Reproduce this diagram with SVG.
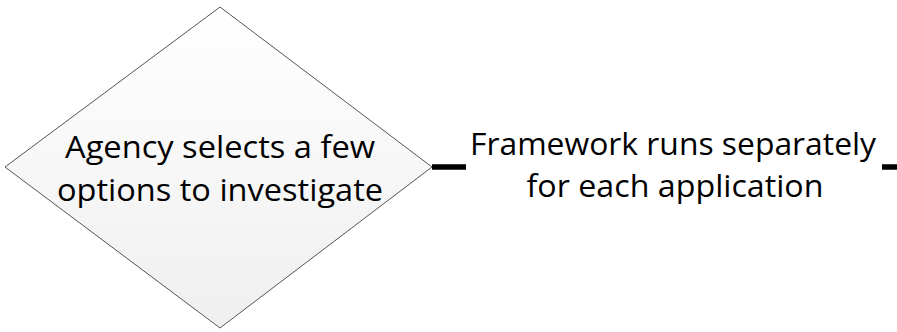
<svg xmlns="http://www.w3.org/2000/svg" width="897" height="332" viewBox="0 0 897 332">
  <defs>
    <linearGradient id="diamondFill" x1="0" y1="0" x2="0" y2="1">
      <stop offset="0" stop-color="#ffffff"/>
      <stop offset="1" stop-color="#efefef"/>
    </linearGradient>
  </defs>
  <style>
    .label { font-family: "Open Sans", "Liberation Sans", sans-serif; font-size: 31px; fill: #000; }
    .shape { fill: url(#diamondFill); stroke: #555; stroke-width: 1; }
    .link { stroke: #000; stroke-width: 5.5; fill: none; }
  </style>
  <rect width="897" height="332" fill="#fff"/>
  <g id="decision">
    <polygon class="shape" points="220,7 432,167 220,328 5,167"/>
    <text class="label" x="220" y="158" text-anchor="middle" textLength="310" lengthAdjust="spacingAndGlyphs">Agency selects a few</text>
    <text class="label" x="220" y="201" text-anchor="middle" textLength="326" lengthAdjust="spacingAndGlyphs">options to investigate</text>
  </g>
  <g id="framework">
    <text class="label" x="673" y="155" text-anchor="middle" textLength="406" lengthAdjust="spacingAndGlyphs">Framework runs separately</text>
    <text class="label" x="675" y="197" text-anchor="middle" textLength="297" lengthAdjust="spacingAndGlyphs">for each application</text>
  </g>
  <g id="connectors">
    <line class="link" x1="432" y1="167" x2="466" y2="167"/>
    <line class="link" x1="882" y1="167" x2="897" y2="167"/>
  </g>
</svg>
